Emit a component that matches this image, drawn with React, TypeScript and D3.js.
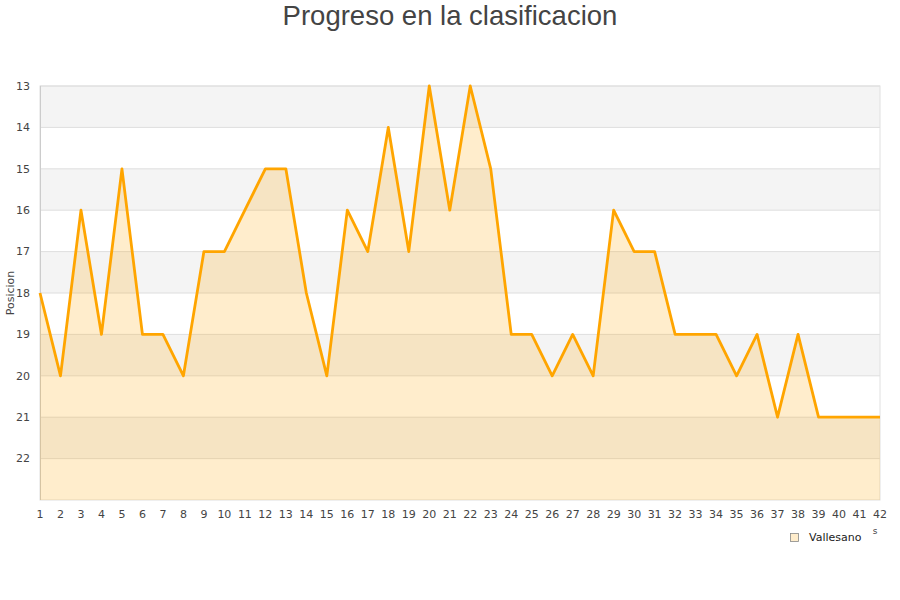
import * as d3 from 'd3'

const rounds = d3.range(1, 43)
const positions = [
  18, 20, 16, 19, 15, 19, 19, 20, 17, 17, 16, 15, 15, 18, 20, 16, 17, 14, 17, 13, 16,
  13, 15, 19, 19, 20, 19, 20, 16, 17, 17, 19, 19, 19, 20, 19, 21, 19, 21, 21, 21, 21,
]
const yTicks = [13, 14, 15, 16, 17, 18, 19, 20, 21, 22]
const seriesName = 'Vallesano'

const W = 900
const H = 600
const margin = { top: 86, right: 20, bottom: 100, left: 40 }
const innerW = W - margin.left - margin.right
const innerH = H - margin.top - margin.bottom

export default function App() {
  const x = d3.scaleLinear().domain([1, 42]).range([0, innerW])
  const y = d3.scaleLinear().domain([13, 23]).range([0, innerH])

  const pts: [number, number][] = rounds.map((r, i) => [r, positions[i]])
  const line = d3
    .line<[number, number]>()
    .x((d) => x(d[0]))
    .y((d) => y(d[1]))
  const area = d3
    .area<[number, number]>()
    .x((d) => x(d[0]))
    .y0(innerH)
    .y1((d) => y(d[1]))

  const bands = d3.range(13, 23)

  return (
    <svg
      width={W}
      height={H}
      style={{ position: 'absolute', left: 0, top: 0, fontFamily: 'DejaVu Sans, sans-serif' }}
    >
      <rect width={W} height={H} fill="#fff" />
      <text
        x={W / 2}
        y={25}
        textAnchor="middle"
        fontFamily="Liberation Sans, Arial, sans-serif"
        fontSize={27.5}
        fill="#444"
      >
        Progreso en la clasificacion
      </text>
      <g transform={`translate(${margin.left},${margin.top})`}>
        {bands.map((b, i) => (
          <rect
            key={b}
            x={0}
            y={y(b)}
            width={innerW}
            height={y(b + 1) - y(b)}
            fill={i % 2 === 0 ? '#f4f4f4' : '#ffffff'}
          />
        ))}
        {yTicks.map((t) => (
          <line key={t} x1={0} x2={innerW} y1={y(t)} y2={y(t)} stroke="#dedede" strokeWidth={1} />
        ))}
        <rect x={0} y={0} width={innerW} height={innerH} fill="none" stroke="#e0e0e0" />
        <line x1={0.5} x2={0.5} y1={0} y2={innerH} stroke="#ccc" />
        <path d={area(pts) ?? ''} fill="#ffa500" fillOpacity={0.2} />
        <path
          d={line(pts) ?? ''}
          fill="none"
          stroke="#ffa500"
          strokeWidth={2.8}
          strokeLinejoin="round"
        />
        {yTicks.map((t) => (
          <text
            key={t}
            x={-10}
            y={y(t)}
            dy="0.35em"
            textAnchor="end"
            fontSize={11}
            fill="#444"
          >
            {t}
          </text>
        ))}
        {rounds.map((r) => (
          <text
            key={r}
            x={x(r)}
            y={innerH + 18}
            textAnchor="middle"
            fontSize={11}
            fill="#444"
          >
            {r}
          </text>
        ))}
      </g>
      <text
        transform="translate(14,293) rotate(-90)"
        textAnchor="middle"
        fontSize={11}
        fill="#444"
      >
        Posicion
      </text>
      <text x={875} y={534} fontSize={9} fill="#444" textAnchor="middle">
        s
      </text>
      <rect x={790.5} y={533.5} width={8} height={8} fill="#ffedcc" stroke="#888" strokeWidth={0.8} />
      <text x={809} y={541} fontSize={11} fill="#222">
        {seriesName}
      </text>
    </svg>
  )
}
